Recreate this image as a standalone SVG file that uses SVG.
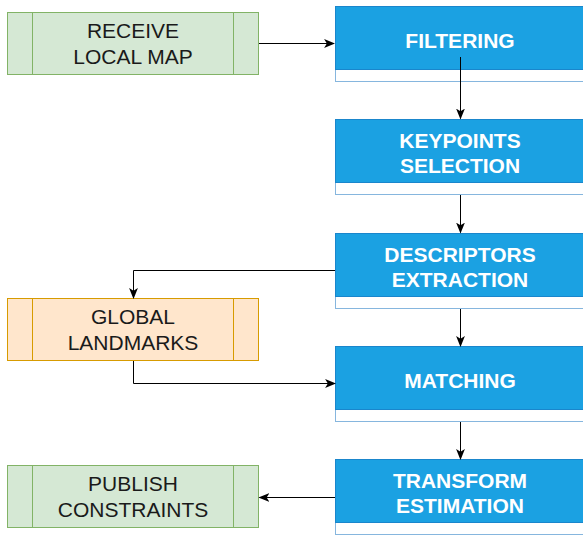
<svg xmlns="http://www.w3.org/2000/svg" width="583" height="536" viewBox="0 0 583 536">
<style>
.proc{fill:#1BA1E2;stroke:#1A86CC;stroke-width:1}
.strip{fill:#FFFFFF;stroke:#86B6DE;stroke-width:1}
.io{fill:#D5E8D4;stroke:#82B366;stroke-width:1}
.db{fill:#FFE6CC;stroke:#D79B00;stroke-width:1}
.bt{font-family:"Liberation Sans",Arial,sans-serif;font-size:21px;font-weight:bold;fill:#FFFFFF;text-anchor:middle}
.lt{font-family:"Liberation Sans",Arial,sans-serif;font-size:21px;fill:#1A1A1A;text-anchor:middle}
.edge{fill:none;stroke:#000000;stroke-width:1}
</style>
<defs>
<marker id="arr" viewBox="0 0 10 10" refX="9" refY="5" markerWidth="11" markerHeight="11" markerUnits="userSpaceOnUse" orient="auto">
<path d="M0,1 L10,5 L0,9 L2.5,5 Z" fill="#000000"/>
</marker>
</defs>
<g id="receive">
<rect class="io" x="7.5" y="12.5" width="251" height="62"/>
<line class="io" x1="32.5" y1="12.5" x2="32.5" y2="74.5"/>
<line class="io" x1="233.5" y1="12.5" x2="233.5" y2="74.5"/>
<text class="lt" x="133" y="37.5">RECEIVE</text>
<text class="lt" x="133" y="64">LOCAL MAP</text>
</g>
<g id="global">
<rect class="db" x="7.5" y="298.5" width="251" height="62"/>
<line class="db" x1="32.5" y1="298.5" x2="32.5" y2="360.5"/>
<line class="db" x1="233.5" y1="298.5" x2="233.5" y2="360.5"/>
<text class="lt" x="133" y="323.5">GLOBAL</text>
<text class="lt" x="133" y="350">LANDMARKS</text>
</g>
<g id="publish">
<rect class="io" x="7.5" y="465.5" width="251" height="62"/>
<line class="io" x1="32.5" y1="465.5" x2="32.5" y2="527.5"/>
<line class="io" x1="233.5" y1="465.5" x2="233.5" y2="527.5"/>
<text class="lt" x="133" y="490.5">PUBLISH</text>
<text class="lt" x="133" y="517">CONSTRAINTS</text>
</g>
<g id="filtering">
<rect class="strip" x="335.5" y="69.5" width="250" height="12"/>
<rect class="proc" x="335.5" y="6.5" width="250" height="63"/>
<text class="bt" x="460" y="47.5">FILTERING</text>
</g>
<g id="keypoints">
<rect class="strip" x="335.5" y="182.5" width="250" height="12"/>
<rect class="proc" x="335.5" y="119.5" width="250" height="63"/>
<text class="bt" x="460" y="148">KEYPOINTS</text>
<text class="bt" x="460" y="173">SELECTION</text>
</g>
<g id="descriptors">
<rect class="strip" x="335.5" y="296.5" width="250" height="12"/>
<rect class="proc" x="335.5" y="233.5" width="250" height="63"/>
<text class="bt" x="460" y="262">DESCRIPTORS</text>
<text class="bt" x="460" y="287">EXTRACTION</text>
</g>
<g id="matching">
<rect class="strip" x="335.5" y="409.5" width="250" height="12"/>
<rect class="proc" x="335.5" y="346.5" width="250" height="63"/>
<text class="bt" x="460" y="387.5">MATCHING</text>
</g>
<g id="transform">
<rect class="strip" x="335.5" y="522.5" width="250" height="12"/>
<rect class="proc" x="335.5" y="459.5" width="250" height="63"/>
<text class="bt" x="460" y="488">TRANSFORM</text>
<text class="bt" x="460" y="513">ESTIMATION</text>
</g>
<g id="connectors">
<path class="edge" d="M259,43.5 L334,43.5" marker-end="url(#arr)"/>
<path class="edge" d="M460.5,57 L460.5,118.5" marker-end="url(#arr)"/>
<path class="edge" d="M460.5,195 L460.5,232.5" marker-end="url(#arr)"/>
<path class="edge" d="M335,270.5 L133.5,270.5 L133.5,298" marker-end="url(#arr)"/>
<path class="edge" d="M460.5,309 L460.5,346" marker-end="url(#arr)"/>
<path class="edge" d="M133.5,361 L133.5,383.5 L335,383.5" marker-end="url(#arr)"/>
<path class="edge" d="M460.5,422 L460.5,459" marker-end="url(#arr)"/>
<path class="edge" d="M335,497.5 L259.5,497.5" marker-end="url(#arr)"/>
</g>
</svg>
